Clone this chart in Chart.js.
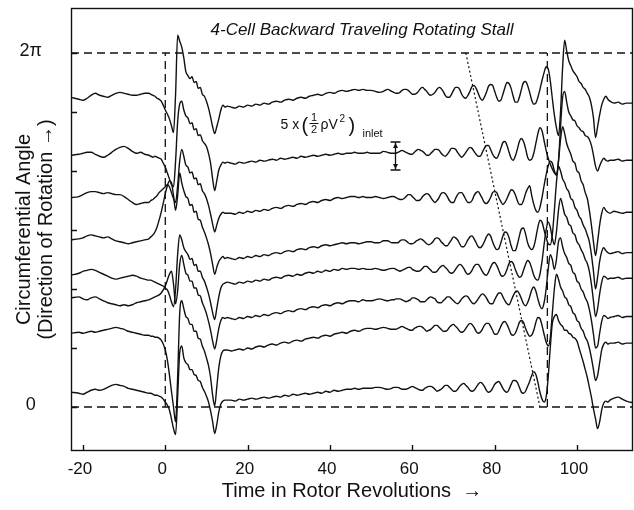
<!DOCTYPE html>
<html>
<head>
<meta charset="utf-8">
<script src="https://cdn.jsdelivr.net/npm/chart.js@4.4.1/dist/chart.umd.min.js"></script>
<style>
  html, body { margin: 0; padding: 0; background: #fff; }
  canvas { display: block; }
</style>
</head>
<body>
<canvas id="chart" width="634" height="510"></canvas>
<script>
// Sample times (rotor revolutions)
const revs = [
  -23,-21,-20,-19,-18,-17,-16,-15,-14,-13,-12,-11,-10,-9,-8,-7,-6,-5,-4,
  -3.5,-3,-2.5,-2,-1.5,-1,-0.5,0,0.5,1,1.5,2,2.5,3,3.5,4,4.5,5,5.5,6,6.5,7,7.5,8,8.5,9,9.5,10,10.5,11,11.5,12,12.5,13,13.5,14,14.5,15,
  16,17,18,19,20,21,22,23,24,25,26,27,28,29,30,31,32,33,34,35,36,37,38,39,40,41,42,43,44,45,
  46,47,48,49,50,51,52,53,54,55,
  55.5,56,56.5,57,57.5,58,58.5,59,59.5,60,60.5,61,61.5,62,62.5,63,63.5,64,64.5,65,
  65.5,66,66.5,67,67.5,68,68.5,69,69.5,70,70.5,71,71.5,72,72.5,73,73.5,74,74.5,75,
  75.5,76,76.5,77,77.5,78,78.5,79,79.5,80,80.5,81,81.5,82,82.5,83,83.5,84,84.5,85,
  85.5,86,86.5,87,87.5,88,
  88.5,89,89.5,90,90.5,91,91.5,92,92.5,93,93.5,94,94.5,95,95.5,96,96.5,97,97.5,98,
  98.5,99,99.5,100,100.5,101,101.5,102,102.5,103,103.5,104,104.5,105,105.5,106,106.5,107,107.5,108,
  109,110,111,112,114
];

// Pressure traces placed at their probe angle (degrees), top probe first
const probe1 = [
  315,313,312,314,317,319,317,316,315,317,319,320,319,318,317,317,318,319,319,
  318,317,316,314,313,311,307,302,298,293,286,279,318,378,372,366,355,341,337,334,336,330,331,324,325,318,316,311,304,295,285,278,285,293,302,307,305,306,
  305,304,306,305,307,306,308,307,309,308,310,311,310,312,313,312,314,315,314,316,317,318,317,319,320,319,321,322,321,322,
  323,322,323,322,322,321,320,321,323,321,
  320,319,319,320,322,323,323,322,320,318,318,319,321,324,325,323,321,318,317,318,
  320,323,325,324,321,317,315,315,318,322,325,325,323,318,315,314,317,321,326,327,
  324,319,314,312,315,320,326,328,327,321,315,311,312,318,325,330,329,324,316,310,
  310,315,323,330,331,327,
  320,312,308,309,315,323,332,340,346,344,332,314,297,284,276,300,345,373,362,352,
  347,342,339,336,331,329,325,323,319,315,307,294,274,285,297,307,313,316,313,311,
  309,310,308,309,309
];
const probe2 = [
  256,257,258,259,259,257,255,254,256,259,262,264,265,263,260,258,259,257,256,
  255,254,255,254,253,252,248,244,238,232,226,224,250,290,308,311,302,296,294,288,289,282,283,276,277,271,268,265,258,248,232,220,230,241,246,249,248,249,
  248,247,249,248,249,250,249,251,250,251,252,251,253,252,253,254,253,255,254,255,256,255,256,257,256,257,258,257,258,258,
  259,258,258,259,258,258,258,260,259,258,
  258,258,259,260,261,260,259,258,257,257,259,261,262,261,260,258,256,256,258,260,
  262,262,261,258,256,255,257,260,263,263,262,259,256,254,256,259,262,264,263,260,
  257,255,255,259,263,266,266,262,257,254,253,257,263,269,270,266,259,253,251,255,
  262,270,273,270,263,254,
  251,252,258,268,278,284,281,271,261,253,247,242,238,236,250,285,315,321,310,300,
  296,292,291,286,284,281,280,276,275,272,266,256,245,240,245,250,253,251,250,251,
  251,252,250,251,251
];
const probe3 = [
  213,214,216,218,219,219,218,217,218,217,216,216,214,211,208,206,207,208,208,
  210,211,213,215,218,220,222,224,226,224,218,212,208,225,250,262,255,246,244,238,239,232,233,226,227,220,217,212,205,196,186,178,185,192,196,198,197,197,
  197,196,198,197,199,198,200,199,201,200,202,203,202,204,205,204,206,207,206,208,209,208,210,211,210,212,213,212,213,214,
  214,213,214,213,213,214,213,212,213,214,
  214,213,212,211,211,212,214,216,216,214,212,210,210,211,214,216,217,216,213,210,
  208,210,213,217,218,217,214,210,208,208,212,216,218,218,215,211,208,208,210,215,
  218,219,216,212,208,207,209,213,218,219,218,213,209,206,208,212,217,221,220,216,
  210,206,206,210,217,222,
  225,215,206,200,198,203,213,225,236,245,250,248,240,236,250,272,285,278,268,262,
  257,250,248,240,238,230,226,218,212,200,185,168,154,168,185,197,203,200,198,197,
  199,198,197,198,198
];
const probe4 = [
  170,171,172,174,175,174,173,172,173,171,169,168,167,166,167,168,169,170,171,
  173,175,178,183,190,198,207,217,225,230,228,215,200,215,238,228,220,214,212,205,206,198,199,191,190,183,178,172,165,156,145,135,142,148,151,153,151,152,
  151,150,152,151,153,152,154,153,155,154,156,157,156,158,159,158,160,161,160,162,163,162,164,165,164,165,166,167,166,167,
  167,166,167,168,168,167,167,169,169,167,
  167,167,167,169,170,170,169,167,166,166,167,169,170,171,170,168,166,165,166,168,
  171,172,171,168,166,164,164,167,170,173,172,170,166,163,163,166,170,173,174,171,
  167,163,162,164,168,173,176,174,168,163,160,161,167,174,178,177,172,164,159,159,
  165,174,181,182,176,167,
  162,160,163,172,183,190,188,180,172,166,165,175,200,228,245,240,232,228,222,219,
  212,210,203,200,194,191,185,181,175,168,155,138,120,132,148,158,162,159,157,156,
  157,158,156,157,157
];
const probe5 = [
  134,136,138,139,140,139,137,135,133,131,130,131,132,133,134,133,131,130,129,
  129,128,127,126,125,124,123,121,119,114,107,102,120,155,175,170,162,158,155,150,151,144,145,138,138,132,128,122,115,106,96,89,100,112,121,125,126,127,
  126,125,127,126,128,127,129,128,130,129,131,132,131,133,134,133,135,134,136,137,136,138,137,139,138,140,139,141,140,141,
  141,140,141,140,140,141,140,139,140,141,
  141,140,139,138,139,140,141,142,142,140,139,138,138,139,141,143,143,141,139,137,
  137,138,141,143,144,142,140,137,136,137,140,143,145,144,141,137,135,136,139,143,
  145,145,142,138,135,134,137,142,146,147,144,139,134,133,135,140,146,148,146,140,
  135,132,133,139,145,149,
  147,141,134,130,129,135,148,165,180,188,183,172,165,178,200,212,205,196,193,186,
  184,177,175,168,165,160,156,150,146,138,125,108,92,100,115,127,133,132,130,131,
  131,132,130,131,131
];
const probe6 = [
  111,112,110,109,111,112,110,108,106,105,104,103,104,103,104,106,107,108,109,
  110,111,112,113,114,116,119,123,129,135,138,125,105,118,145,154,145,136,134,128,128,121,121,114,113,106,101,95,87,78,67,59,68,80,88,91,90,91,
  90,89,91,90,92,91,93,92,94,93,95,96,95,97,98,97,99,100,99,101,102,101,103,104,103,105,106,105,107,108,
  108,107,109,108,108,109,110,109,108,109,
  109,110,110,110,109,108,107,108,109,111,111,110,109,107,107,107,109,111,112,111,
  110,107,106,106,108,110,112,112,110,108,106,105,107,110,112,113,112,109,106,105,
  107,110,113,115,114,111,107,105,105,109,113,116,116,112,108,105,104,108,113,117,
  118,115,110,105,103,106,
  112,119,122,118,110,103,100,106,120,140,155,150,140,150,168,172,163,156,152,146,
  144,137,135,128,126,120,117,111,107,99,88,74,60,62,75,87,93,92,90,91,
  92,93,91,92,92
];
const probe7 = [
  75,76,75,76,77,76,77,78,79,80,81,80,79,77,76,75,74,73,73,
  72,72,71,71,70,68,64,58,48,33,16,0,-15,30,95,108,100,92,90,84,84,77,77,70,69,62,57,50,42,30,12,1,20,40,52,57,58,58,
  57,58,59,58,60,59,61,62,61,63,64,63,65,66,65,67,68,67,69,70,71,70,72,73,72,74,75,76,75,77,
  78,77,79,80,80,79,80,81,80,79,
  79,79,80,81,82,81,80,79,78,78,80,81,82,82,81,79,77,78,79,81,
  83,83,81,79,77,77,78,81,83,84,82,80,77,76,77,80,83,85,84,81,
  77,75,76,79,83,85,85,82,78,74,74,77,82,86,87,84,79,74,73,75,
  80,86,88,86,80,75,
  72,73,78,86,91,90,83,74,66,62,70,95,120,135,130,122,118,112,110,104,
  102,96,94,88,86,80,77,71,67,60,50,38,27,32,45,58,64,66,64,65,
  65,66,64,65,65
];
const probe8 = [
  15,14,13,15,17,18,17,18,20,22,23,22,21,19,18,17,16,15,14,
  14,13,12,12,11,10,8,5,2,-3,-12,-22,-28,10,55,62,50,45,43,38,38,33,32,27,26,20,16,11,5,-4,-15,-27,-18,-5,3,6,7,7,
  7,6,8,7,8,9,8,9,10,9,10,11,10,12,11,13,12,13,14,13,14,15,14,16,15,17,16,17,18,18,
  19,18,19,19,19,20,20,19,18,19,
  20,20,20,19,18,18,18,19,20,21,20,19,18,17,17,19,20,21,21,20,
  18,16,17,18,20,22,22,20,18,16,16,18,21,23,24,22,20,17,16,17,
  20,23,25,24,21,17,15,16,19,23,25,26,23,19,16,15,18,23,27,27,
  25,20,15,14,16,21,
  26,32,36,33,25,15,8,5,10,30,60,85,92,94,88,84,82,78,78,75,
  74,71,70,67,60,53,46,38,30,20,10,-2,-12,-22,-15,-3,4,6,5,7,
  9,10,8,6,4
];
const probes = [probe1, probe2, probe3, probe4, probe5, probe6, probe7, probe8];

// Axes and guides
const revRange = [-22.9, 113.6];
const angleRange = [-44.75, 405.76];
const refAngles = [0, 360];          // one full turn, dashed
const onsetRevs = [0, 92.8];         // stall onsets, dashed
const waveFrontRevs = [73, 91];      // travelling pre-stall wave, dotted
const waveFrontAngles = [360, 0];
const xTickValues = [-20, 0, 20, 40, 60, 80, 100];
const yTickValues = [0, 60, 120, 180, 240, 300, 360];
const yTickLabels = { 0: '0', 360: '2\u03C0' };
const scaleBar = { rev: 55.9, top: 269.5, bottom: 241 };
const chartTitle = '4-Cell Backward Traveling Rotating Stall';

const FONT = '"Liberation Sans", Arial, Helvetica, sans-serif';
const INK = '#111';
Chart.defaults.font.family = FONT;
Chart.defaults.color = INK;

const datasets = [];
refAngles.forEach(a => datasets.push({
  data: [{ x: revRange[0], y: a }, { x: revRange[1], y: a }],
  borderColor: INK, borderWidth: 1.3, borderDash: [8, 5]
}));
onsetRevs.forEach(r => datasets.push({
  data: [{ x: r, y: refAngles[0] }, { x: r, y: refAngles[1] }],
  borderColor: INK, borderWidth: 1.3, borderDash: [8, 5]
}));
datasets.push({
  data: waveFrontRevs.map((r, i) => ({ x: r, y: waveFrontAngles[i] })),
  borderColor: INK, borderWidth: 1.2, borderDash: [2, 2.5]
});
probes.forEach(p => datasets.push({
  data: revs.map((r, i) => ({ x: r, y: p[i] })),
  borderColor: INK, borderWidth: 1.4, cubicInterpolationMode: 'monotone'
}));

// Frame, inward ticks, in-plot title and the pressure scale bar
const decorations = {
  id: 'decorations',
  afterDatasetsDraw(chart) {
    const { ctx, chartArea: a, scales: { x, y } } = chart;
    ctx.save();
    ctx.strokeStyle = INK;
    ctx.fillStyle = INK;
    ctx.lineWidth = 1.4;
    ctx.strokeRect(a.left + 0.5, a.top + 0.5, a.right - a.left - 1, a.bottom - a.top - 1);

    ctx.beginPath();
    xTickValues.forEach(v => {
      const px = Math.round(x.getPixelForValue(v)) + 0.5;
      ctx.moveTo(px, a.bottom); ctx.lineTo(px, a.bottom - 6);
    });
    yTickValues.forEach(v => {
      const py = Math.round(y.getPixelForValue(v)) + 0.5;
      ctx.moveTo(a.left, py); ctx.lineTo(a.left + 6, py);
    });
    ctx.stroke();

    ctx.font = 'italic 17px ' + FONT;
    ctx.textAlign = 'center';
    ctx.textBaseline = 'alphabetic';
    ctx.fillText(chartTitle, (a.left + a.right) / 2 + 10, a.top + 27);

    // scale bar
    const bx = Math.round(x.getPixelForValue(scaleBar.rev)) + 0.5;
    const bt = y.getPixelForValue(scaleBar.top);
    const bb = y.getPixelForValue(scaleBar.bottom);
    ctx.lineWidth = 1.3;
    ctx.beginPath();
    ctx.moveTo(bx, bt); ctx.lineTo(bx, bb);
    ctx.moveTo(bx - 5, bt); ctx.lineTo(bx + 5, bt);
    ctx.moveTo(bx - 5, bb); ctx.lineTo(bx + 5, bb);
    ctx.stroke();
    ctx.beginPath();
    ctx.moveTo(bx, bt + 1); ctx.lineTo(bx - 2.5, bt + 6); ctx.lineTo(bx + 2.5, bt + 6); ctx.closePath();
    ctx.moveTo(bx, bb - 1); ctx.lineTo(bx - 2.5, bb - 6); ctx.lineTo(bx + 2.5, bb - 6); ctx.closePath();
    ctx.fill();

    // 5 x (1/2 rho V^2)_inlet, laid out to the left of the bar
    const base = bt - 13;
    ctx.textAlign = 'left';
    ctx.font = '14px ' + FONT;
    ctx.fillText('5 x', bx - 115, base);
    ctx.font = '20px ' + FONT;
    ctx.fillText('(', bx - 94, base + 3);
    ctx.font = '11px ' + FONT;
    ctx.textAlign = 'center';
    ctx.fillText('1', bx - 81.5, base - 8);
    ctx.fillText('2', bx - 81.5, base + 4);
    ctx.fillRect(bx - 86, base - 6, 9, 1);
    ctx.textAlign = 'left';
    ctx.font = '14px ' + FONT;
    ctx.fillText('\u03C1', bx - 75, base);
    ctx.fillText('V', bx - 67, base);
    ctx.font = '10px ' + FONT;
    ctx.fillText('2', bx - 56, base - 7);
    ctx.font = '20px ' + FONT;
    ctx.fillText(')', bx - 47, base + 3);
    ctx.font = '11px ' + FONT;
    ctx.fillText('inlet', bx - 33, base + 8);
    ctx.restore();
  }
};

new Chart(document.getElementById('chart'), {
  type: 'line',
  data: { datasets },
  options: {
    responsive: false,
    animation: false,
    devicePixelRatio: 1,
    layout: { padding: { top: 8, right: 1, left: 0, bottom: 0 } },
    elements: { point: { radius: 0 }, line: { tension: 0 } },
    plugins: { legend: { display: false }, tooltip: { enabled: false }, title: { display: false } },
    scales: {
      x: {
        type: 'linear',
        min: revRange[0], max: revRange[1],
        afterFit: s => { s.height = 59; s.paddingLeft = 0; s.paddingRight = 0; },
        afterBuildTicks: s => { s.ticks = xTickValues.map(v => ({ value: v })); },
        grid: { display: false, drawTicks: false },
        border: { display: false },
        ticks: { padding: 8, labelOffset: -3, maxRotation: 0, autoSkip: false, color: INK, font: { size: 17 } },
        title: { display: true, text: 'Time in Rotor Revolutions  \u2192', color: INK,
                 font: { size: 20 }, padding: { top: 0, bottom: 7 } }
      },
      y: {
        type: 'linear',
        min: angleRange[0], max: angleRange[1],
        afterFit: s => { s.width = 71; s.paddingTop = 0; s.paddingBottom = 0; },
        afterBuildTicks: s => { s.ticks = yTickValues.map(v => ({ value: v })); },
        grid: { display: false, drawTicks: false },
        border: { display: false },
        ticks: { callback: v => yTickLabels[v] ?? '', padding: 29, crossAlign: 'center',
                 labelOffset: -2, color: INK, font: { size: 18 } },
        title: { display: true, text: ['Circumferential Angle', '(Direction of Rotation \u2192)'],
                 color: INK, font: { size: 20, lineHeight: 1.1 }, padding: { top: 13, bottom: 0 } }
      }
    }
  },
  plugins: [decorations]
});
</script>
</body>
</html>
